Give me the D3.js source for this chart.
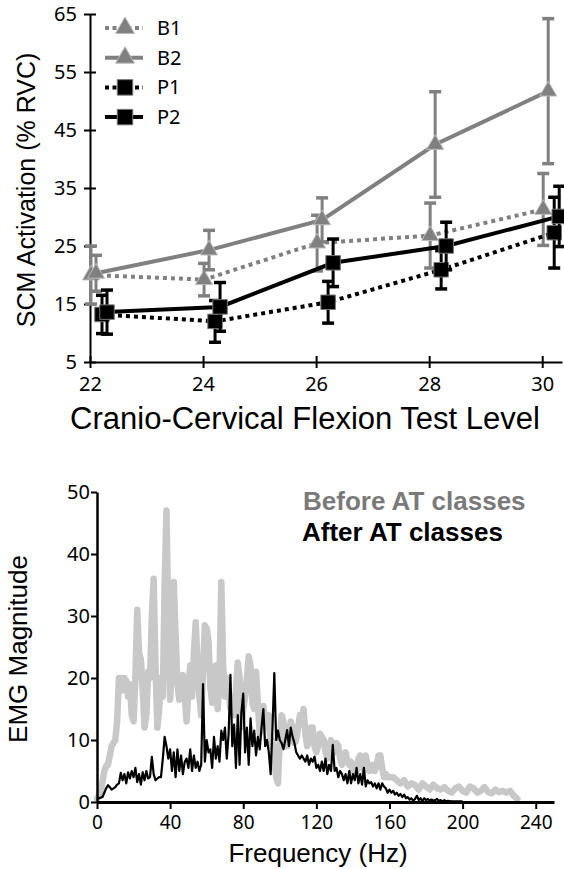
<!DOCTYPE html>
<html><head><meta charset="utf-8">
<script src="https://cdn.jsdelivr.net/npm/d3@7"></script>
<style>body{margin:0;background:#fff}svg{display:block}</style>
</head><body>
<svg id="c" width="564" height="869"></svg>
<script>
// ---------- Top chart data ----------
const levels = [22, 24, 26, 28, 30];
const yTicksTop = [5, 15, 25, 35, 45, 55, 65];
const b1Mean = [20.0, 19.2, 25.5, 26.8, 31.3];
const b1Err  = [5.0, 2.8, 4.8, 5.6, 6.2];
const b2Mean = [20.3, 24.3, 29.5, 42.5, 51.7];
const b2Err  = [3.1, 3.4, 3.8, 9.1, 12.5];
const p1Mean = [13.2, 12.0, 15.3, 20.9, 27.3];
const p1Err  = [3.3, 3.6, 3.6, 3.3, 6.1];
const p2Mean = [13.6, 14.5, 22.1, 25.0, 30.1];
const p2Err  = [3.8, 4.2, 4.1, 4.1, 5.2];
const seriesNames = ["B1", "B2", "P1", "P2"];

// ---------- Bottom chart data ----------
const xTicksBottom = [0, 40, 80, 120, 160, 200, 240];
const yTicksBottom = [0, 10, 20, 30, 40, 50];
const legendBottom = ["Before AT classes", "After AT classes"];
const beforeSpectrum = [
[0,0.5],[2,1.5],[4,5],[5,5.8],[6,6],[7,7.5],[8,9],[9,9.5],[10,10],[11,13],[12,20],[13,20],[14,18],[15,20],[16,19.5],[17,17],[18,19],[19,14],[20,13],
[21,20],[22,31],[23,24],[24,23],[25,18],[26,12],[27,14],[28,21],[29,20],[30,30],[31,36],[32,22],[33,12],[34,15],[35,20],[36,17],[37,35],[38,47],[39,30],[40,16.5],
[41,22],[42,35.5],[43,27],[44,19],[45,16.5],[46,18],[47,20.5],[48,17],[49,13],[50,18],[51,22],[52,17],[53,24],[54,29],[55,22],[56,17],[57,14],[58,21],[59,28.5],[60,28],
[61,26],[62,18.5],[63,16],[64,19],[65,22],[66,15],[67,20],[68,35.5],[69,22],[70,17],[71,20],[72,18],[73,15],[74,16],[75,14],[76,18],[77,22.5],[78,20],[79,12],[80,15],
[81,17],[82,20],[83,23.5],[84,22],[85,16],[86,15],[87,21],[88,16],[89,11],[90,13],[91,15.5],[92,13],[93,12],[94,14],[95,9],[96,10],[97,7],[98,4],[99,3],[100,10],
[101,14],[102,13],[103,11],[104,9],[105,10],[106,13],[107,12],[108,9.5],[109,10],[110,12],[111,14],[112,13],[113,15],[114,11],[115,9],[116,10],[117,12],[118,12],[119,9],[120,8],
[121,9],[122,11],[123,10.5],[124,10],[125,8],[126,7],[127,9],[128,10],[129,9],[130,8],[131,9.5],[132,9],[133,7],[134,6],[135,7],[136,8],[137,6.5],[138,6],[139,6.5],[140,5],
[141,6],[142,5],[143,7],[144,7.5],[145,6],[146,5],[147,7.5],[148,6],[149,5],[150,5.5],[151,6],[152,5],[153,6],[154,7.5],[155,7.5],[156,5.5],[157,4],[158,4.5],[159,4],[160,4],
[162,4],[164,3.5],[166,3],[168,3.5],[170,2.5],[172,3],[174,2.7],[176,2],[178,3],[180,2.5],[182,2],[184,2.8],[186,2.2],[188,2],[190,2.4],[192,1.8],[194,1.5],[196,2.2],[198,2.5],[200,1.8],
[202,1.5],[204,2.5],[206,2.2],[208,1.5],[210,1.8],[212,2.4],[214,1.6],[216,1.4],[218,2],[220,1.6],[222,1.8],[224,1.5],[226,1.8],[228,1],[230,0.5]
];
const afterSpectrum = [
[0,0.5],[1,0.6],[2,0.7],[3,0.8],[4,1.5],[5,2.2],[6,2.7],[7,2.4],[8,2],[9,2.2],[10,2.4],[11,2.8],[12,3],[13,4.7],[14,3.5],[15,4.5],[16,3],[17,4.8],[18,3.8],[19,5],[20,4],
[21,5.5],[22,3.2],[23,4.5],[24,2.8],[25,4.8],[26,3.5],[27,5],[28,3.8],[29,4],[30,7.3],[31,4.5],[32,3.5],[33,3.8],[34,4],[35,4],[36,7],[37,10.5],[38,9],[39,7],[40,8.5],
[41,5],[42,8],[43,4],[44,8.5],[45,5],[46,7.5],[47,4.5],[48,6.5],[49,7],[50,5.5],[51,8.5],[52,5],[53,7.5],[54,5.5],[55,6.5],[56,5],[57,6],[58,19],[59,6.5],[60,10],
[61,8],[62,8.5],[63,5.5],[64,10.5],[65,7],[66,9],[67,6.5],[68,11.5],[69,10],[70,12],[71,7],[72,11],[73,20.5],[74,9],[75,12.5],[76,5.5],[77,14],[78,6],[79,14.5],[80,17.5],
[81,8],[82,12],[83,6],[84,13.5],[85,9],[86,11.5],[87,7.5],[88,10.5],[89,8.5],[90,12],[91,15],[92,9],[93,10],[94,8],[95,4.5],[96,12],[97,20.8],[98,10],[99,11.5],[100,10],
[101,9.5],[102,8.5],[103,10],[104,11.6],[105,9],[106,12],[107,10.5],[108,9.5],[109,8],[110,7.5],[111,7],[112,7.5],[113,7],[114,6.5],[115,7.5],[116,6],[117,7],[118,6.5],[119,7.3],[120,5.5],
[121,6],[122,5],[123,6.5],[124,5],[125,7],[126,4.5],[127,6],[128,5],[129,9.2],[130,5],[131,5.5],[132,4],[133,5],[134,4.5],[135,3.5],[136,4.5],[137,3],[138,5],[139,3],[140,4.5],
[141,3.5],[142,5.5],[143,3],[144,4.5],[145,2.8],[146,5.5],[147,2.5],[148,3.5],[149,3],[150,3.2],[151,2.5],[152,3],[153,2.2],[154,3],[155,2],[156,3],[157,2.5],[158,2.2],[159,1.5],[160,2],
[161,1.5],[162,1.8],[163,1.2],[164,1.5],[165,1],[166,1.3],[167,0.8],[168,1.2],[169,0.6],[170,0.8],[171,0.4],[172,0.6],[173,0.2],[174,0.5],[175,1],[176,0.3],[177,0.6],[178,0.2],[179,0.6],[180,0.3],
[181,0.5],[182,0.2],[183,0.4],[184,0.2],[185,0.3],[186,0.5],[187,0.2],[188,0.3],[189,0.1],[190,0.3],[191,0.1],[192,0.2],[194,0.1],[196,0.1],[198,0.1],[200,0.1]
];

// ---------- Styles ----------
const GRAY = "#808080";
const numFont = "'Noto Sans', 'Open Sans', sans-serif";
const titleFont = "'Liberation Sans', Arial, sans-serif";
const styles = [
  {mean: b1Mean, err: b1Err, color: GRAY, dash: "4,4", shape: d3.symbolTriangle, size: 125, mfill: GRAY, mstroke: "#bbb", off: 1},
  {mean: b2Mean, err: b2Err, color: GRAY, dash: null, shape: d3.symbolTriangle, size: 125, mfill: GRAY, mstroke: "#bbb", off: 6},
  {mean: p1Mean, err: p1Err, color: "#000", dash: "4,4", shape: d3.symbolSquare, size: 210, mfill: "#000", mstroke: "#777", off: 12},
  {mean: p2Mean, err: p2Err, color: "#000", dash: null, shape: d3.symbolSquare, size: 210, mfill: "#000", mstroke: "#777", off: 17}
];

const svg = d3.select("#c");

// ================= TOP CHART =================
const xTop = d3.scaleLinear().domain([22, 30.35]).range([90, 562]);
const yTop = d3.scaleLinear().domain([5, 65]).range([362, 14]);
const topG = svg.append("g");

const yAxT = topG.append("g").attr("transform", "translate(90,0)")
  .call(d3.axisLeft(yTop).tickValues(yTicksTop).tickSize(6).tickSizeOuter(0).tickPadding(7));
yAxT.selectAll(".tick line").attr("x1", 6);
const xAxT = topG.append("g").attr("transform", "translate(0,362)")
  .call(d3.axisBottom(xTop).tickValues(levels).tickSize(6).tickSizeOuter(0).tickPadding(9));
xAxT.selectAll(".tick line").attr("y1", -6);
[yAxT, xAxT].forEach(a => {
  a.select(".domain").attr("stroke", "#000").attr("stroke-width", 2);
  a.selectAll(".tick line").attr("stroke", "#000").attr("stroke-width", 2);
  a.selectAll("text").attr("font-family", numFont).attr("font-size", 20).attr("fill", "#000");
});

styles.forEach((s, si) => {
  const pts = levels.map((l, i) => ({x: xTop(l) + s.off, y: yTop(s.mean[i]), hi: yTop(s.mean[i] + s.err[i]), lo: yTop(s.mean[i] - s.err[i])}));
  const g = topG.append("g");
  g.append("path").attr("d", d3.line().x(d => d.x).y(d => d.y)(pts))
    .attr("fill", "none").attr("stroke", s.color).attr("stroke-width", 4)
    .attr("stroke-dasharray", s.dash);
  const eb = g.selectAll(".eb").data(pts).enter().append("g");
  eb.append("line").attr("x1", d => d.x).attr("x2", d => d.x).attr("y1", d => d.hi).attr("y2", d => d.lo)
    .attr("stroke", s.color).attr("stroke-width", 3);
  eb.append("line").attr("x1", d => d.x - 6).attr("x2", d => d.x + 6).attr("y1", d => d.hi).attr("y2", d => d.hi)
    .attr("stroke", s.color).attr("stroke-width", 3.5);
  eb.append("line").attr("x1", d => d.x - 6).attr("x2", d => d.x + 6).attr("y1", d => d.lo).attr("y2", d => d.lo)
    .attr("stroke", s.color).attr("stroke-width", 3.5);
  g.selectAll(".m").data(pts).enter().append("path")
    .attr("d", d3.symbol().type(s.shape).size(s.size))
    .attr("transform", d => `translate(${d.x},${d.y})`)
    .attr("fill", s.mfill).attr("stroke", s.mstroke).attr("stroke-width", 1);
});

const legT = topG.append("g");
styles.forEach((s, i) => {
  const y = 28 + i * 29.7;
  legT.append("line").attr("x1", 105).attr("x2", 143).attr("y1", y).attr("y2", y)
    .attr("stroke", s.color).attr("stroke-width", 4).attr("stroke-dasharray", s.dash ? "4,3.5" : null);
  legT.append("path").attr("d", d3.symbol().type(s.shape).size(s.size + 30)())
    .attr("transform", `translate(125,${y})`).attr("fill", s.mfill).attr("stroke", s.mstroke).attr("stroke-width", 1);
  legT.append("text").attr("x", 157).attr("y", y).attr("dy", "0.35em")
    .attr("font-family", numFont).attr("font-size", 20).text(seriesNames[i]);
});

topG.append("text").attr("transform", "translate(35,190) rotate(-90)").attr("text-anchor", "middle")
  .attr("font-family", titleFont).attr("font-size", 25).text("SCM Activation (% RVC)");
topG.append("text").attr("x", 305).attr("y", 429).attr("text-anchor", "middle")
  .attr("font-family", titleFont).attr("font-size", 31).text("Cranio-Cervical Flexion Test Level");

// ================= BOTTOM CHART =================
const xBot = d3.scaleLinear().domain([0, 250]).range([97, 554]);
const yBot = d3.scaleLinear().domain([0, 50]).range([802, 492]);
const botG = svg.append("g");

const line = d3.line().x(d => xBot(d[0])).y(d => yBot(d[1]));
botG.append("path").attr("d", line(beforeSpectrum)).attr("fill", "none")
  .attr("stroke", "#c8c8c8").attr("stroke-width", 6.5).attr("stroke-linejoin", "round").attr("stroke-linecap", "round");
botG.append("path").attr("d", line(afterSpectrum)).attr("fill", "none")
  .attr("stroke", "#000").attr("stroke-width", 2.2).attr("stroke-linejoin", "round");

const yAxB = botG.append("g").attr("transform", "translate(97,0)")
  .call(d3.axisLeft(yBot).tickValues(yTicksBottom).tickSize(6).tickSizeOuter(0).tickPadding(1));
const xAxB = botG.append("g").attr("transform", "translate(0,802)")
  .call(d3.axisBottom(xBot).tickValues(xTicksBottom).tickSize(7).tickSizeOuter(0).tickPadding(7));
yAxB.select(".domain").attr("stroke", "#000").attr("stroke-width", 2.5);
xAxB.select(".domain").attr("stroke", "#000").attr("stroke-width", 3);
[yAxB, xAxB].forEach(a => {
  a.selectAll(".tick line").attr("stroke", "#000").attr("stroke-width", 2);
  a.selectAll("text").attr("font-family", numFont).attr("font-size", 20).attr("fill", "#000");
});
xAxB.selectAll("text").attr("font-size", 19);

botG.append("text").attr("x", 303).attr("y", 510).attr("font-family", titleFont).attr("font-weight", "bold")
  .attr("font-size", 26).attr("fill", "#7a7a7a").text(legendBottom[0]);
botG.append("text").attr("x", 302).attr("y", 541).attr("font-family", titleFont).attr("font-weight", "bold")
  .attr("font-size", 26).attr("fill", "#000").text(legendBottom[1]);

botG.append("text").attr("transform", "translate(27,649) rotate(-90)").attr("text-anchor", "middle")
  .attr("font-family", titleFont).attr("font-size", 26).text("EMG Magnitude");
botG.append("text").attr("x", 318).attr("y", 862).attr("text-anchor", "middle")
  .attr("font-family", titleFont).attr("font-size", 26).text("Frequency (Hz)");
</script>
</body></html>
